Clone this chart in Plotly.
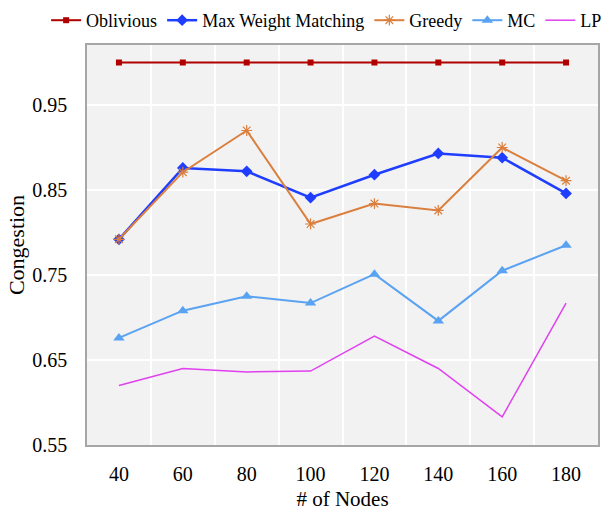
import plotly.graph_objects as go

nodes = [40, 60, 80, 100, 120, 140, 160, 180]
oblivious = [1.0, 1.0, 1.0, 1.0, 1.0, 1.0, 1.0, 1.0]
mwm = [0.792, 0.876, 0.872, 0.841, 0.868, 0.893, 0.888, 0.846]
greedy = [0.792, 0.871, 0.920, 0.810, 0.834, 0.826, 0.900, 0.861]
mc = [0.676, 0.708, 0.725, 0.717, 0.751, 0.696, 0.755, 0.785]
lp = [0.620, 0.640, 0.636, 0.637, 0.678, 0.640, 0.583, 0.717]
y_ticks = [0.55, 0.65, 0.75, 0.85, 0.95]

FONT = "Times New Roman"

fig = go.Figure()
fig.add_trace(go.Scatter(x=nodes, y=oblivious, name="Oblivious", mode="lines+markers",
                         line=dict(color="#B00000", width=2),
                         marker=dict(symbol="square", size=6, color="#B00000")))
fig.add_trace(go.Scatter(x=nodes, y=mwm, name="Max Weight Matching", mode="lines+markers",
                         line=dict(color="#1F3DFF", width=2.5),
                         marker=dict(symbol="diamond", size=9, color="#1F3DFF")))
fig.add_trace(go.Scatter(x=nodes, y=greedy, name="Greedy", mode="lines+markers",
                         line=dict(color="#DA7F3E", width=2),
                         marker=dict(symbol="asterisk-open", size=9,
                                     line=dict(color="#DA7F3E", width=1.2))))
fig.add_trace(go.Scatter(x=nodes, y=mc, name="MC", mode="lines+markers",
                         line=dict(color="#5AA2F2", width=2),
                         marker=dict(symbol="triangle-up", size=10, color="#5AA2F2")))
fig.add_trace(go.Scatter(x=nodes, y=lp, name="LP", mode="lines",
                         line=dict(color="#E040F0", width=1.5)))

fig.update_layout(
    template="none",
    width=603, height=511,
    margin=dict(l=87, r=5, t=45, b=66, autoexpand=False),
    paper_bgcolor="white",
    plot_bgcolor="#F2F2F2",
    font=dict(family=FONT, size=20, color="black"),
    showlegend=True,
    legend=dict(orientation="h", x=-0.08, xanchor="left", xref="paper",
                y=1.015, yanchor="bottom", yref="paper",
                font=dict(family=FONT, size=18, color="black"),
                itemwidth=30, tracegroupgap=0, borderwidth=0,
                bgcolor="rgba(0,0,0,0)"),
)
fig.update_xaxes(
    range=[30, 190],
    tickmode="array", tickvals=nodes, ticktext=[str(n) for n in nodes],
    showgrid=False, zeroline=False,
    showline=True, linecolor="#A6A6A6", linewidth=1.5, mirror=True,
    ticks="", tickfont=dict(family=FONT, size=20), ticklabelstandoff=10,
    minor=dict(tickmode="array", tickvals=[50, 70, 90, 110, 130, 150, 170],
               showgrid=True, gridcolor="white", gridwidth=1.5, ticks=""),
    title=dict(text="# of Nodes", font=dict(family=FONT, size=21), standoff=13),
)
fig.update_yaxes(
    range=[0.55, 1.0206],
    tickmode="array", tickvals=y_ticks, ticktext=[f"{v:.2f}" for v in y_ticks],
    showgrid=True, gridcolor="white", gridwidth=1.5, zeroline=False,
    showline=True, linecolor="#A6A6A6", linewidth=1.5, mirror=True,
    ticks="", tickfont=dict(family=FONT, size=20), ticklabelstandoff=14,
    title=dict(text="Congestion", font=dict(family=FONT, size=22), standoff=2),
)

fig.write_html("out.html", config={"displayModeBar": False},
               post_script="document.body.style.margin='0';")
